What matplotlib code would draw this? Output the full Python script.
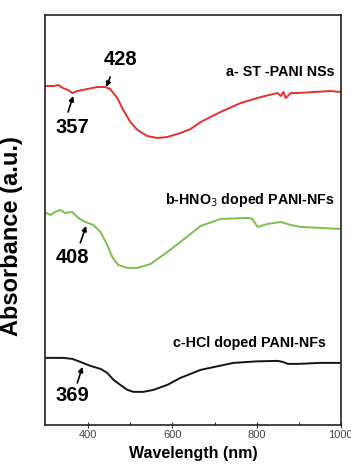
import matplotlib
matplotlib.use("Agg")
import matplotlib.pyplot as plt

plt.rcParams['font.family'] = ['Liberation Sans', 'DejaVu Sans']

# --- data (y in arbitrary absorbance units) ----------------------------------
wl_a = [300, 317, 329, 340, 352, 362, 374, 398, 421, 440, 452, 469, 483, 500,
        517, 540, 564, 588, 619, 643, 667, 714, 762, 810, 850, 857, 864, 869,
        874, 881, 898, 936, 976, 1000]
ab_a = [3.39, 3.39, 3.40, 3.37, 3.35, 3.32, 3.34, 3.36, 3.38, 3.38, 3.36, 3.27, 3.15, 3.03,
        2.95, 2.89, 2.87, 2.88, 2.92, 2.96, 3.03, 3.13, 3.22, 3.28, 3.32, 3.29, 3.33, 3.27,
        3.29, 3.32, 3.32, 3.33, 3.34, 3.33]

wl_b = [300, 310, 321, 333, 345, 362, 376, 393, 412, 429, 445, 457, 471, 493,
        517, 548, 588, 619, 667, 714, 779, 790, 802, 826, 857, 881, 905, 952, 1000]
ab_b = [2.12, 2.10, 2.13, 2.15, 2.12, 2.13, 2.07, 2.03, 2.00, 1.93, 1.80, 1.68, 1.60, 1.57,
        1.57, 1.61, 1.73, 1.83, 1.99, 2.06, 2.07, 2.06, 1.98, 2.01, 2.03, 2.00, 1.98, 1.97, 1.96]

wl_c = [300, 317, 340, 362, 381, 405, 429, 445, 460, 476, 493, 507, 531, 555,
        588, 619, 643, 667, 745, 800, 850, 862, 874, 900, 950, 1000]
ab_c = [0.67, 0.67, 0.67, 0.66, 0.63, 0.59, 0.56, 0.52, 0.45, 0.40, 0.35, 0.33, 0.33, 0.35,
        0.40, 0.47, 0.51, 0.55, 0.62, 0.635, 0.64, 0.63, 0.61, 0.61, 0.62, 0.62]

labels = ["a- ST -PANI NSs", r"b-HNO$_3$ doped PANI-NFs", "c-HCl doped PANI-NFs"]
colors = ["#e4302b", "#7cbf4c", "#151515"]

# peak markers: text, text position, arrow tail, arrow tip
peak_txt = ["428", "357", "408", "369"]
peak_txt_xy = [(476, 3.66), (363, 2.98), (363, 1.67), (363, 0.29)]
arrow_tail = [(452, 3.48), (352, 3.13), (381, 1.82), (374, 0.42)]
arrow_tip = [(443, 3.38), (364, 3.29), (395, 1.99), (386, 0.58)]

# --- figure -------------------------------------------------------------------
fig = plt.figure(figsize=(3.51, 4.71), dpi=100)
ax = fig.add_axes([0.128, 0.098, 0.843, 0.870])

for wl, ab, c in zip([wl_a, wl_b, wl_c], [ab_a, ab_b, ab_c], colors):
    ax.plot(wl, ab, color=c, linewidth=1.4, solid_joinstyle="round")

ax.text(985, 3.53, labels[0], ha="right", va="center", fontsize=10.3, fontweight="bold")
ax.text(985, 2.25, labels[1], ha="right", va="center", fontsize=10.3, fontweight="bold")
ax.text(965, 0.82, labels[2], ha="right", va="center", fontsize=10.3, fontweight="bold")

for txt, (tx, ty) in zip(peak_txt, peak_txt_xy):
    ax.text(tx, ty, txt, ha="center", va="center", fontsize=14.5, fontweight="bold")
for tail, tip in zip(arrow_tail, arrow_tip):
    ax.annotate("", xy=tip, xytext=tail,
                arrowprops=dict(arrowstyle="-|>", color="black", lw=1.2,
                                mutation_scale=7, shrinkA=0, shrinkB=0))

ax.set_xlim(297, 1000)
ax.set_ylim(0, 4.10)
ax.set_xticks([400, 600, 800, 1000])
ax.set_xticks([500, 700, 900], minor=True)
ax.set_yticks([])
ax.tick_params(axis="x", direction="inout", length=4, labelsize=8, pad=2,
               colors="#333333", labelcolor="#444444")
ax.tick_params(axis="x", which="minor", direction="in", length=2)
for s in ax.spines.values():
    s.set_linewidth(1.2)
    s.set_color("#222222")

ax.set_xlabel("Wavelength (nm)", fontsize=11.5, fontweight="bold", labelpad=4)
ax.set_ylabel("Absorbance (a.u.)", fontsize=17, fontweight="bold")
ax.yaxis.set_label_coords(-0.075, 0.46)

fig.savefig("out.png", dpi=100)
